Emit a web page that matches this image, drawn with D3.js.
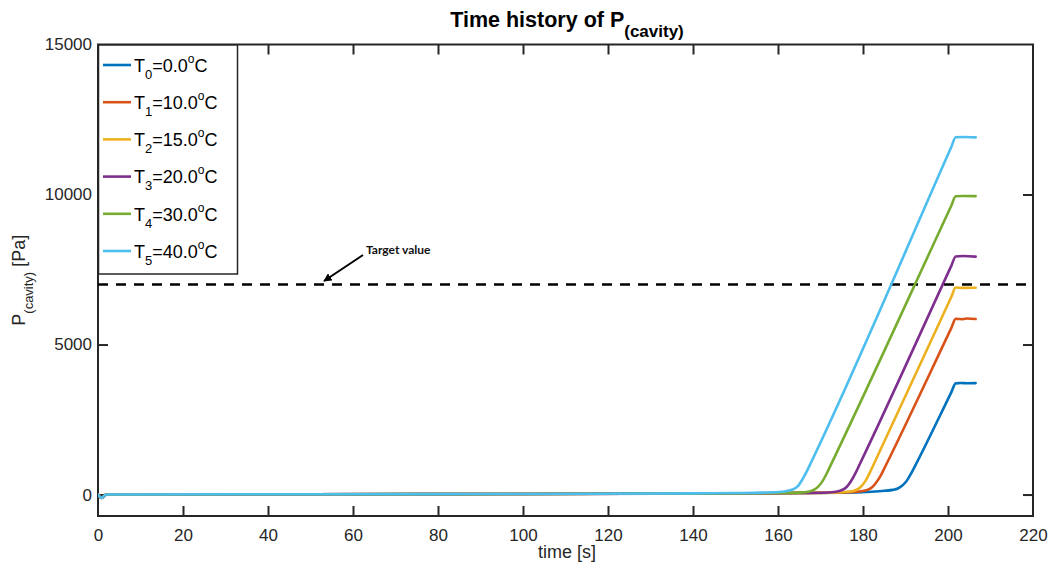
<!DOCTYPE html>
<html>
<head>
<meta charset="utf-8">
<script src="https://cdn.jsdelivr.net/npm/d3@7"></script>
<style>
  html, body { margin: 0; padding: 0; background: #fff; }
  svg { display: block; font-family: "Liberation Sans", Arial, sans-serif; }
</style>
</head>
<body>
<svg id="chart" width="1054" height="571"></svg>
<script>
// ---------------- DATA ----------------
const xTicks = [0, 20, 40, 60, 80, 100, 120, 140, 160, 180, 200, 220];
const yTicks = [0, 5000, 10000, 15000];
const xDomain = [0, 220];
const yDomain = [-715, 15000];
const targetValue = 7000;

const seriesNames = ["T0", "T1", "T2", "T3", "T4", "T5"];
const seriesSubs = ["0", "1", "2", "3", "4", "5"];
const seriesTemps = ["0.0", "10.0", "15.0", "20.0", "30.0", "40.0"];
const seriesColors = ["#0072BD", "#D95319", "#EDB120", "#7E2F8E", "#77AC30", "#4DBEEE"];

// [time s, pressure Pa]
const dataT0 = [[0,0],[0.8,-110],[2,0],[50,10],[100,20],[150,40],[175,60],[182,95],[185,125],[187,155],[188.2,200],[189.2,290],[190.2,440],[191.2,670],[192.2,940],[200.8,3416],[201.8,3705],[203,3720],[204.5,3710],[206.5,3715]];
const dataT1 = [[0,0],[0.8,-110],[2,0],[50,10],[100,20],[150,40],[172,65],[178,90],[180,120],[181.2,165],[182.2,250],[183.2,420],[184.2,640],[185.2,925],[200.8,5557],[201.8,5855],[203.5,5845],[204.5,5870],[206.5,5850]];
const dataT2 = [[0,0],[0.8,-110],[2,0],[50,10],[100,20],[150,40],[170,55],[175,75],[177.5,110],[178.5,160],[179.5,260],[180.5,440],[181.5,700],[182.5,1000],[200.8,6594],[201.8,6900],[203.5,6890],[206.5,6895]];
const dataT3 = [[0,0],[0.8,-110],[2,0],[50,10],[100,20],[150,40],[165,50],[172,70],[174.2,110],[175.2,160],[176.2,260],[177.2,450],[178.2,705],[179.2,1000],[200.8,7629],[201.8,7936],[203.5,7950],[206.5,7930]];
const dataT4 = [[0,0],[0.8,-110],[2,0],[50,10],[100,20],[150,40],[160,50],[165,65],[167.4,105],[168.4,155],[169.4,255],[170.4,430],[171.4,685],[172.4,980],[200.8,9635],[201.8,9940],[203.5,9950],[206.5,9945]];
const dataT5 = [[0,0],[0.8,-110],[2,0],[50,10],[100,20],[140,40],[150,50],[158,70],[161.5,100],[162.8,140],[163.8,190],[164.8,300],[165.8,520],[166.8,780],[167.8,1075],[200.8,11591],[201.8,11910],[203.5,11915],[206.5,11905]];
const seriesData = [dataT0, dataT1, dataT2, dataT3, dataT4, dataT5];

// ---------------- LAYOUT ----------------
const W = 1054, H = 571;
const m = { left: 98, right: W - 1033, top: 44.5, bottom: H - 516 };
const axisColor = "#262626";

const svg = d3.select("#chart");
const x = d3.scaleLinear().domain(xDomain).range([m.left, W - m.right]);
const y = d3.scaleLinear().domain(yDomain).range([H - m.bottom, m.top]);

svg.append("defs").append("clipPath").attr("id", "plotclip")
  .append("rect")
  .attr("x", m.left).attr("y", m.top)
  .attr("width", x.range()[1] - m.left)
  .attr("height", y.range()[0] - m.top);

// Axes (box with inward ticks)
const tickLen = 10;
const gx = svg.append("g").attr("transform", `translate(0,${y.range()[0]})`)
  .call(d3.axisBottom(x).tickValues(xTicks).tickSizeInner(-tickLen).tickSizeOuter(0).tickPadding(13));
const gxTop = svg.append("g").attr("transform", `translate(0,${m.top})`)
  .call(d3.axisTop(x).tickValues(xTicks).tickSizeInner(-tickLen).tickSizeOuter(0).tickFormat(""));
const gy = svg.append("g").attr("transform", `translate(${m.left},0)`)
  .call(d3.axisLeft(y).tickValues(yTicks).tickSizeInner(-tickLen).tickSizeOuter(0).tickPadding(6).tickFormat(d3.format("d")));
const gyRight = svg.append("g").attr("transform", `translate(${x.range()[1]},0)`)
  .call(d3.axisRight(y).tickValues(yTicks).tickSizeInner(-tickLen).tickSizeOuter(0).tickFormat(""));

[gx, gxTop, gy, gyRight].forEach(g => {
  g.select(".domain").remove();
  g.selectAll(".tick line").attr("stroke", axisColor).attr("stroke-width", 2);
  g.selectAll(".tick text").attr("fill", axisColor).style("font-size", "17px");
});
gx.selectAll(".tick text").attr("dy", "0.71em");
// remove ticks that coincide with the frame
gx.selectAll(".tick").filter(d => d === 0 || d === 220).select("line").remove();
gxTop.selectAll(".tick").filter(d => d === 0 || d === 220).select("line").remove();
gy.selectAll(".tick").filter(d => d === 15000).select("line").remove();
gyRight.selectAll(".tick").filter(d => d === 15000).select("line").remove();

// Frame
svg.append("rect")
  .attr("x", m.left).attr("y", m.top)
  .attr("width", x.range()[1] - m.left).attr("height", y.range()[0] - m.top)
  .attr("fill", "none").attr("stroke", axisColor).attr("stroke-width", 2);

// Target line
svg.append("line")
  .attr("x1", x(xDomain[0])).attr("x2", x(xDomain[1]))
  .attr("y1", y(targetValue)).attr("y2", y(targetValue))
  .attr("stroke", "#000").attr("stroke-width", 2.5)
  .attr("stroke-dasharray", "10,8");

// Series
const line = d3.line().x(d => x(d[0])).y(d => y(d[1])).curve(d3.curveMonotoneX);
const plot = svg.append("g").attr("clip-path", "url(#plotclip)");
seriesData.forEach((data, i) => {
  plot.append("path")
    .datum(data)
    .attr("fill", "none")
    .attr("stroke", seriesColors[i])
    .attr("stroke-width", 2.6)
    .attr("stroke-linejoin", "round")
    .attr("stroke-linecap", "round")
    .attr("d", line);
});

// Annotation arrow "Target value"
svg.append("defs").append("marker")
  .attr("id", "arrowhead").attr("viewBox", "0 0 10 10")
  .attr("refX", 9).attr("refY", 5)
  .attr("markerWidth", 4.2).attr("markerHeight", 4.2)
  .attr("markerUnits", "strokeWidth")
  .attr("orient", "auto")
  .append("path").attr("d", "M0,0 L10,5 L0,10 z").attr("fill", "#000");
svg.append("line")
  .attr("x1", 363).attr("y1", 255)
  .attr("x2", 324).attr("y2", 281)
  .attr("stroke", "#000").attr("stroke-width", 2)
  .attr("marker-end", "url(#arrowhead)");
svg.append("text")
  .attr("x", 366).attr("y", 254)
  .attr("font-family", "Lato, 'Open Sans', sans-serif")
  .attr("font-weight", "bold")
  .attr("font-size", "12px")
  .attr("fill", "#111")
  .text("Target value");

// Title
const title = svg.append("text")
  .attr("x", (m.left + x.range()[1]) / 2 + 1.5).attr("y", 26.7)
  .attr("text-anchor", "middle")
  .attr("font-weight", "bold")
  .attr("fill", "#000")
  .style("font-size", "21.5px");
title.append("tspan").text("Time history of P");
title.append("tspan").attr("dy", 10).style("font-size", "17px").text("(cavity)");

// X label
svg.append("text")
  .attr("x", (m.left + x.range()[1]) / 2 + 1.5).attr("y", 558)
  .attr("text-anchor", "middle").attr("fill", axisColor)
  .style("font-size", "18px")
  .text("time [s]");

// Y label
const ylab = svg.append("text")
  .attr("transform", `translate(25,${(m.top + y.range()[0]) / 2}) rotate(-90)`)
  .attr("text-anchor", "middle").attr("fill", axisColor)
  .style("font-size", "18px");
ylab.append("tspan").text("P");
ylab.append("tspan").attr("dy", 8).style("font-size", "13px").text("(cavity)");
ylab.append("tspan").attr("dy", -8).text(" [Pa]");

// Legend
const leg = svg.append("g");
leg.append("rect")
  .attr("x", 98.5).attr("y", 45).attr("width", 139).attr("height", 229)
  .attr("fill", "#fff").attr("stroke", axisColor).attr("stroke-width", 1.5);
const rowY = d3.scaleLinear().domain([0, 5]).range([65, 251]);
seriesNames.forEach((name, i) => {
  const cy = rowY(i);
  leg.append("line")
    .attr("x1", 103).attr("x2", 131).attr("y1", cy).attr("y2", cy)
    .attr("stroke", seriesColors[i]).attr("stroke-width", 2.6);
  const t = leg.append("text")
    .attr("x", 134).attr("y", cy + 6.7)
    .attr("fill", "#000").style("font-size", "18px");
  t.append("tspan").text("T");
  t.append("tspan").attr("dy", 7).style("font-size", "13px").text(seriesSubs[i]);
  t.append("tspan").attr("dy", -7).text("=" + seriesTemps[i]);
  t.append("tspan").attr("dy", -9).style("font-size", "12px").text("o");
  t.append("tspan").attr("dy", 9).text("C");
});
</script>
</body>
</html>
